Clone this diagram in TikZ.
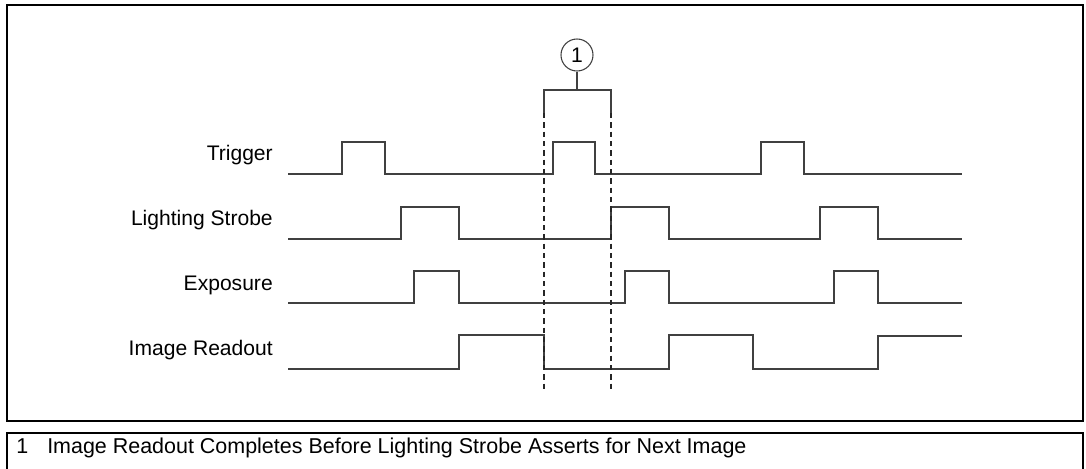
\documentclass[tikz,border=0pt]{standalone}
\usepackage{fontspec}
\setmainfont{Liberation Sans}
\usetikzlibrary{positioning}

\begin{document}
\begin{tikzpicture}[x=0.75pt, y=-0.75pt, font=\fontsize{15.8}{18}\selectfont,
    sig/.style={draw=black!75, line width=0.8pt},
    lbl/.style={anchor=base east, inner sep=0pt},
    note/.style={anchor=base west, inner sep=0pt, font=\fontsize{16.1}{18}\selectfont},
    frame/.style={draw=black, line width=1.3pt},
    guide/.style={draw=black!85, line width=0.8pt, dash pattern=on 4pt off 3pt}]
                \useasboundingbox (0,0) rectangle (1086,468);
                \draw[frame] (7,5) rectangle (1083,421);
                \draw[frame] (7,433) rectangle (1083,475);

                \node[lbl] (trig) at (273,160) {Trigger};
                \node[lbl] (strobe) at (273,225) {Lighting Strobe};
                \node[lbl] (expo) at (273,290) {Exposure};
                \node[lbl] (read) at (273,355) {Image Readout};

                % waveforms
                \draw[sig] (288,174) -- (342,174) -- (342,142) -- (385,142) -- (385,174)
                  -- (553,174) -- (553,142) -- (595,142) -- (595,174)
                  -- (761,174) -- (761,142) -- (804,142) -- (804,174) -- (962,174);
                \draw[sig] (288,239) -- (401,239) -- (401,207) -- (459,207) -- (459,239)
                  -- (611,239) -- (611,207) -- (669,207) -- (669,239)
                  -- (820,239) -- (820,207) -- (878,207) -- (878,239) -- (962,239);
                \draw[sig] (288,303) -- (414,303) -- (414,271) -- (459,271) -- (459,303)
                  -- (625,303) -- (625,271) -- (669,271) -- (669,303)
                  -- (834,303) -- (834,271) -- (878,271) -- (878,303) -- (962,303);
                \draw[sig] (288,369) -- (459,369) -- (459,335) -- (544,335) -- (544,369)
                  -- (669,369) -- (669,335) -- (753,335) -- (753,369)
                  -- (878,369) -- (878,336) -- (962,336);

                % callout
                \node[sig, circle, inner sep=0pt, minimum size=24pt] (c1) at (577,55) {1};
                \coordinate (bm) at (577,90);
                \coordinate (bl) at (544,90);
                \coordinate (br) at (611,90);
                \coordinate (bl2) at (544,113);
                \coordinate (br2) at (611,113);
                \coordinate (dl) at (544,390);
                \coordinate (dr) at (611,390);
                \draw[sig] (c1) -- (bm);
                \draw[sig] (bl2) -- (bl) -- (br) -- (br2);
                \draw[guide] (bl2) -- (dl);
                \draw[guide] (br2) -- (dr);

                \node[note] (num) at (16,453) {1};
                \node[note] (text) at (47,453) {Image Readout Completes Before Lighting Strobe Asserts for Next Image};
\end{tikzpicture}
\end{document}
